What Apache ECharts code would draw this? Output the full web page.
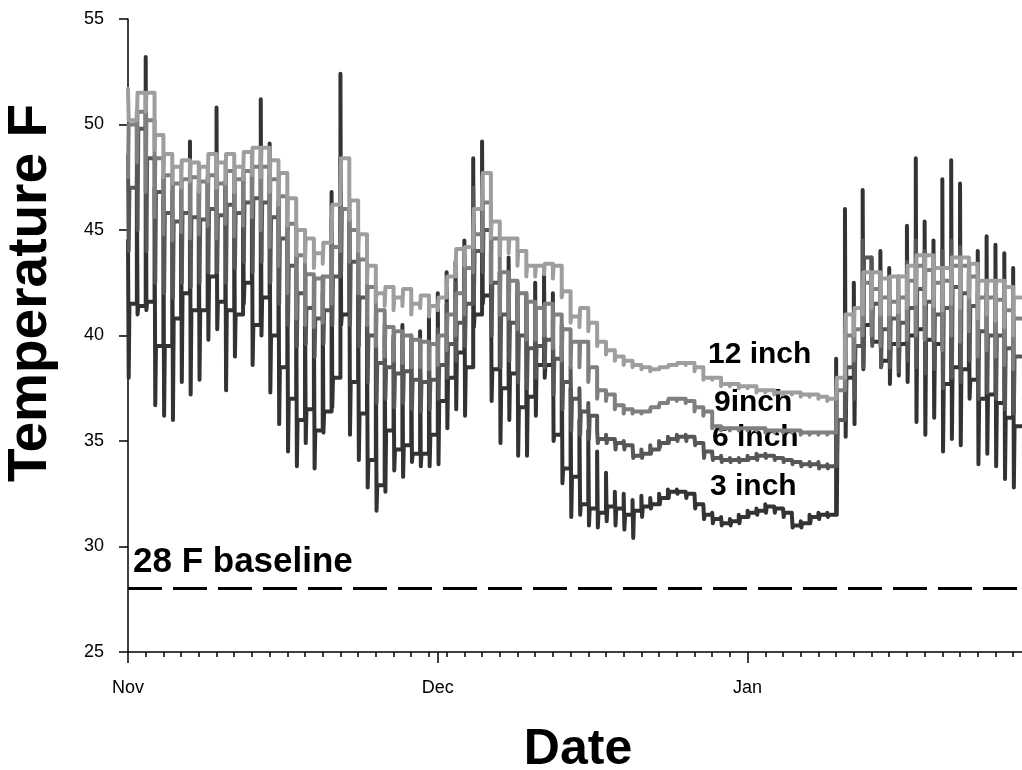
<!DOCTYPE html>
<html>
<head>
<meta charset="utf-8">
<script src="https://cdn.jsdelivr.net/npm/echarts@6.0.0/dist/echarts.min.js"></script>
<style>
html, body { margin: 0; padding: 0; background: #fff; }
#chart { width: 1022px; height: 770px; }
</style>
</head>
<body>
<div id="chart"></div>
<script>
// x axis labels (day index of each label) and the minor tick step
var monthLabels = ['Nov', 'Dec', 'Jan'];
var monthDays = [0, 35, 70];
var minorStep = 2;
var baseline = 28;

// 12 inch: daily level and the short daily excursion
var base12 = [
	50.2, 51.5, 51.5, 49.5, 48.6, 48.0, 48.3, 48.2, 48.0, 48.6,
	48.2, 48.6, 48.0, 48.7, 48.9, 48.9, 48.3, 47.7, 46.5, 45.0,
	44.6, 43.9, 44.4, 46.2, 48.4, 46.4, 44.8, 43.3, 42.0, 42.3,
	41.8, 42.2, 41.5, 41.9, 41.4, 41.8, 42.8, 44.1, 44.2, 46.0,
	47.7, 45.4, 44.6, 44.6, 44.0, 43.3, 43.3, 43.4, 43.3, 42.1,
	40.9, 41.3, 40.6, 39.7, 39.3, 39.0, 38.8, 38.6, 38.5, 38.4,
	38.5, 38.6, 38.7, 38.7, 38.5, 38.0, 38.0, 37.7, 37.7, 37.6,
	37.6, 37.4, 37.4, 37.3, 37.3, 37.3, 37.2, 37.2, 37.1, 37.0,
	38.0, 41.0, 41.3, 43.0, 43.0, 42.7, 42.8, 42.8, 43.3, 43.8,
	43.8, 43.2, 43.2, 43.7, 43.7, 43.4, 42.6, 42.6, 42.6, 42.3, 41.8
];
var spike12 = [
	51.7, 50.2, 50.6, 48.8, 47.5, 47.2, 47.0, 47.3, 46.8, 47.3,
	47.0, 47.2, 46.8, 47.4, 47.6, 47.5, 46.8, 46.2, 45.2, 43.8,
	43.5, 43.2, 43.4, 44.5, 46.5, 45.5, 44.0, 42.5, 41.6, 41.4,
	41.2, 41.4, 41.0, 41.3, 40.9, 41.2, 42.0, 43.0, 43.3, 44.8,
	46.5, 44.6, 43.8, 43.9, 43.3, 42.8, 42.8, 42.9, 42.7, 41.8,
	40.6, 40.4, 40.2, 39.5, 39.1, 38.8, 38.6, 38.5, 38.4, 38.3,
	38.4, 38.5, 38.6, 38.6, 38.3, 37.9, 37.9, 37.6, 37.6, 37.5,
	37.5, 37.3, 37.3, 37.2, 37.2, 37.2, 37.1, 37.1, 37.0, 36.9,
	37.0, 39.5, 40.0, 41.0, 41.3, 41.0, 41.0, 41.1, 41.3, 41.5,
	41.5, 41.4, 41.2, 41.5, 41.3, 41.8, 40.8, 41.0, 40.7, 40.4, 40.0
];

// 9 inch
var base9 = [
	50.0, 50.6, 50.2, 48.4, 47.6, 47.2, 47.4, 47.5, 47.3, 47.6,
	47.2, 47.8, 47.4, 47.8, 48.0, 48.0, 47.4, 46.6, 45.3, 43.8,
	42.9, 42.7, 42.8, 44.2, 46.0, 45.0, 43.6, 42.3, 41.2, 40.4,
	40.2, 40.0, 39.8, 39.7, 39.6, 40.0, 41.0, 42.0, 43.2, 44.8,
	46.3, 44.6, 43.0, 42.6, 42.0, 41.6, 41.3, 41.5, 41.0, 40.3,
	39.7, 39.7, 38.5, 37.4, 37.2, 36.7, 36.5, 36.4, 36.4, 36.6,
	36.8, 37.0, 37.0, 36.9, 36.6, 36.4, 35.7, 35.6, 35.6, 35.6,
	35.6, 35.6, 35.5, 35.5, 35.5, 35.5, 35.4, 35.4, 35.4, 35.4,
	37.4, 40.0, 40.3, 42.5, 42.2, 41.8, 41.6, 41.8, 42.6, 43.3,
	43.1, 42.5, 42.6, 43.3, 43.3, 42.8, 41.8, 41.8, 41.7, 41.2, 40.8
];
var spike9 = [
	47.5, 48.2, 46.8, 45.6, 44.8, 44.5, 44.9, 44.6, 44.8, 45.2,
	44.6, 45.3, 44.7, 45.2, 45.6, 45.0, 44.2, 43.3, 42.0, 40.8,
	40.5, 40.4, 40.6, 41.5, 44.0, 43.5, 42.0, 40.5, 39.5, 39.0,
	38.8, 38.7, 38.5, 38.5, 38.4, 38.6, 39.3, 40.0, 41.0, 43.0,
	44.0, 42.5, 41.0, 40.8, 40.3, 39.8, 39.8, 40.0, 39.4, 38.8,
	38.5, 38.5, 37.8, 37.0, 36.9, 36.5, 36.3, 36.3, 36.3, 36.5,
	36.7, 36.9, 36.9, 36.8, 36.4, 36.2, 35.6, 35.5, 35.5, 35.5,
	35.5, 35.5, 35.4, 35.4, 35.4, 35.4, 35.3, 35.3, 35.3, 35.3,
	35.4, 38.5, 38.8, 40.0, 40.0, 39.5, 39.4, 39.5, 39.8, 40.0,
	39.8, 39.8, 39.3, 40.0, 39.7, 40.2, 39.0, 39.3, 39.0, 38.6, 38.4
];

// 6 inch: daily level, daily high, daily low
var base6 = [
	47.0, 49.8, 48.4, 46.8, 45.8, 45.4, 45.8, 45.6, 45.5, 46.0,
	45.7, 46.2, 45.8, 46.3, 46.5, 46.3, 45.6, 44.6, 43.3, 42.0,
	41.3, 40.8, 41.2, 42.8, 46.0, 43.5, 41.8, 40.0, 38.7, 38.5,
	38.2, 38.3, 37.9, 37.8, 37.9, 38.6, 39.6, 40.6, 41.5, 44.0,
	45.0, 42.5, 41.0, 40.6, 40.0, 39.4, 39.5, 39.8, 38.9, 37.8,
	37.0, 36.4, 36.2, 35.1, 35.1, 34.9, 34.8, 34.3, 34.4, 34.6,
	34.9, 35.1, 35.2, 35.2, 34.9, 34.5, 34.2, 34.1, 34.1, 34.1,
	34.2, 34.3, 34.3, 34.2, 34.1, 34.0, 33.9, 33.9, 33.8, 33.8,
	36.0, 38.5, 39.5, 43.7, 41.5, 40.3, 40.8, 40.6, 41.3, 42.2,
	41.6, 41.0, 41.3, 42.3, 42.0, 41.4, 40.2, 40.0, 40.0, 39.4, 39.0
];
var high6 = [
	48.5, 50.6, 50.5, 48.5, 47.5, 46.8, 46.8, 47.5, 46.8, 47.2,
	47.6, 47.3, 47.4, 47.5, 47.8, 48.5, 47.5, 46.3, 45.2, 43.8,
	43.0, 42.5, 42.8, 45.5, 48.4, 46.0, 44.0, 42.5, 41.0, 40.0,
	39.8, 39.7, 39.5, 39.3, 39.5, 40.3, 41.5, 42.5, 43.8, 47.0,
	47.5, 45.0, 43.0, 42.8, 42.0, 41.5, 41.2, 41.4, 40.8, 39.5,
	38.5, 37.5, 36.8, 35.5, 35.3, 35.1, 35.0, 34.8, 34.6, 34.8,
	35.0, 35.2, 35.3, 35.3, 35.2, 34.9, 34.4, 34.3, 34.2, 34.2,
	34.3, 34.4, 34.4, 34.3, 34.2, 34.1, 34.0, 34.0, 34.0, 33.9,
	37.5, 41.0, 41.0, 44.5, 43.7, 42.5, 42.5, 42.5, 43.5, 44.5,
	44.0, 43.0, 44.0, 44.5, 44.2, 42.5, 42.0, 42.0, 41.8, 41.5, 41.0
];
var low6 = [
	44.0, 45.0, 44.0, 42.5, 42.0, 41.8, 42.5, 42.3, 42.5, 43.0,
	43.0, 42.5, 43.2, 43.5, 43.0, 43.5, 42.5, 41.5, 40.5, 39.5,
	39.6, 39.0, 39.6, 40.5, 43.0, 40.5, 39.5, 37.8, 36.8, 37.0,
	36.6, 36.8, 36.5, 36.4, 36.5, 37.0, 38.0, 38.8, 39.5, 41.8,
	43.0, 40.0, 38.5, 38.8, 37.8, 37.5, 38.0, 38.5, 37.2, 36.5,
	35.5, 35.3, 35.1, 34.9, 34.9, 34.6, 34.6, 34.2, 34.2, 34.4,
	34.7, 34.9, 35.0, 35.0, 34.8, 34.2, 34.1, 34.0, 34.0, 34.0,
	34.1, 34.1, 34.2, 34.1, 34.0, 33.9, 33.8, 33.8, 33.7, 33.7,
	33.8, 36.5, 37.0, 38.5, 39.5, 38.5, 38.5, 38.3, 38.8, 38.5,
	38.2, 38.4, 37.5, 38.0, 37.8, 38.8, 37.0, 37.3, 37.0, 36.5, 36.3
];

// 3 inch
var base3 = [
	41.5, 41.4, 41.6, 39.5, 39.5, 40.8, 42.0, 41.2, 41.2, 42.8,
	41.6, 41.2, 41.0, 42.5, 40.5, 41.8, 40.0, 38.5, 37.0, 36.0,
	36.5, 35.5, 36.4, 38.0, 41.0, 37.8, 36.3, 34.1, 32.9, 35.5,
	34.6, 34.8, 34.4, 34.4, 35.3, 36.9, 38.0, 39.2, 38.5, 41.0,
	41.9, 38.4, 37.5, 38.2, 36.6, 37.1, 38.6, 38.6, 35.3, 33.7,
	33.3, 32.0, 31.8, 31.6, 31.9, 31.8, 31.5, 31.7, 31.9, 32.0,
	32.3, 32.6, 32.6, 32.5, 32.0, 31.5, 31.3, 31.1, 31.2, 31.4,
	31.6, 31.7, 31.9, 31.8, 31.6, 31.0, 31.1, 31.4, 31.5, 31.5,
	36.0, 38.0, 39.5, 40.5, 39.7, 38.8, 39.6, 39.6, 40.0, 40.3,
	39.8, 39.6, 37.7, 38.5, 38.4, 37.9, 37.0, 37.2, 36.8, 36.1, 35.7
];
var high3 = [
	44.5, 47.5, 53.2, 47.0, 46.5, 46.0, 47.0, 49.2, 47.0, 47.5,
	50.8, 47.0, 47.2, 47.5, 47.8, 51.2, 49.1, 46.0, 44.5, 43.0,
	42.0, 41.5, 42.0, 46.8, 52.4, 45.5, 43.0, 41.5, 40.0, 40.5,
	40.0, 40.5, 40.0, 40.2, 41.0, 42.0, 43.0, 43.5, 44.5, 48.4,
	49.2, 44.0, 43.0, 43.7, 42.5, 42.0, 42.5, 43.0, 42.0, 40.5,
	37.5, 36.0, 35.5, 34.5, 33.5, 32.6, 32.5, 32.2, 32.4, 32.3,
	32.5, 32.7, 32.7, 32.6, 32.5, 32.0, 31.6, 31.4, 31.3, 31.5,
	31.7, 31.8, 32.0, 31.9, 31.8, 31.5, 31.2, 31.5, 31.6, 31.6,
	38.9, 46.0, 42.5, 46.9, 43.7, 44.0, 43.2, 42.8, 45.2, 48.4,
	45.4, 44.5, 47.4, 48.3, 47.2, 43.0, 44.0, 44.7, 44.3, 43.9, 43.2
];
var low3 = [
	38.0, 41.0, 41.2, 36.7, 36.2, 36.0, 37.8, 37.2, 37.9, 39.8,
	40.3, 37.4, 39.0, 41.5, 38.6, 40.0, 37.3, 35.8, 34.5, 33.8,
	34.9, 33.7, 35.4, 36.6, 40.5, 35.3, 34.1, 32.8, 31.7, 32.6,
	33.6, 33.3, 34.0, 33.8, 33.8, 33.9, 35.6, 36.5, 36.2, 40.4,
	41.5, 36.9, 34.9, 36.0, 34.3, 34.3, 36.2, 38.0, 35.0, 33.0,
	31.4, 31.5, 31.0, 30.9, 31.2, 31.0, 30.8, 30.4, 31.4, 31.8,
	32.0, 32.3, 32.5, 32.3, 31.8, 31.3, 31.1, 31.0, 31.0, 31.1,
	31.4, 31.5, 31.6, 31.6, 31.4, 30.9, 30.9, 31.1, 31.3, 31.4,
	31.5, 35.2, 35.8, 38.4, 39.7, 38.5, 37.7, 38.1, 37.8, 35.9,
	35.3, 36.1, 34.5, 35.1, 34.8, 37.0, 33.9, 34.4, 33.8, 33.2, 32.8
];

var FONT = 'Liberation Sans, Arial, sans-serif';

/**
 * turn the daily arrays into a stepped line:
 * previous level -> high -> low -> new level, then flat until the next day
 */
function toSteps(level, high, low) {
	var pts = [];
	for (var d = 0; d < level.length; d++) {
		if (d > 0) pts.push([d, level[d - 1]]);
		pts.push([d, high[d]]);
		pts.push([d + 0.08, high[d]]);
		if (low) {
			pts.push([d + 0.08, low[d]]);
			pts.push([d + 0.16, low[d]]);
			pts.push([d + 0.16, level[d]]);
		} else {
			pts.push([d + 0.08, level[d]]);
		}
	}
	pts.push([100.9, level[level.length - 1]]);
	return pts;
}

var minorTicks = [];
for (var t = 0; t <= 100; t += minorStep) minorTicks.push(t);

function lineSeries(name, color, data) {
	return {
		name: name,
		type: 'line',
		data: data,
		showSymbol: false,
		symbol: 'none',
		lineStyle: { color: color, width: 4, cap: 'round', join: 'round' },
		silent: true
	};
}

var myChart = echarts.init(document.getElementById('chart'), null, { renderer: 'canvas' });
var option = {
	animation: false,
	backgroundColor: '#ffffff',
	grid: { left: 128, top: 19, right: 0, bottom: 118 },
	xAxis: [
		{
			type: 'value', min: 0, max: 101,
			axisLine: { lineStyle: { color: '#000', width: 1.5 } },
			axisTick: { customValues: minorTicks, length: 5, lineStyle: { color: '#000', width: 1.5 } },
			axisLabel: { show: false },
			splitLine: { show: false }
		},
		{
			type: 'value', min: 0, max: 101, position: 'bottom',
			axisLine: { show: false },
			axisTick: { customValues: monthDays, length: 11, lineStyle: { color: '#000', width: 1.5 } },
			axisLabel: {
				customValues: monthDays,
				margin: 27,
				fontSize: 18,
				fontFamily: FONT,
				color: '#000',
				formatter: function (v) {
					var i = monthDays.indexOf(v);
					return i >= 0 ? monthLabels[i] : '';
				}
			},
			splitLine: { show: false }
		}
	],
	yAxis: {
		type: 'value', min: 25, max: 55, interval: 5,
		axisLine: { show: true, lineStyle: { color: '#000', width: 1.5 } },
		axisTick: { show: true, length: 9, lineStyle: { color: '#000', width: 1.5 } },
		axisLabel: { fontSize: 18, fontFamily: FONT, color: '#000', margin: 24 },
		splitLine: { show: false }
	},
	series: [
		lineSeries('3 inch', '#333333', toSteps(base3, high3, low3)),
		lineSeries('6 inch', '#575757', toSteps(base6, high6, low6)),
		lineSeries('9inch', '#7f7f7f', toSteps(base9, spike9, null)),
		(function () {
			var s = lineSeries('12 inch', '#9e9e9e', toSteps(base12, spike12, null));
			s.markLine = {
				silent: true,
				symbol: 'none',
				label: { show: false },
				lineStyle: { color: '#000', width: 3, type: [34, 11] },
				data: [{ yAxis: baseline }]
			};
			return s;
		})()
	],
	graphic: [
		{ type: 'text', left: 708, top: 340, style: { text: '12 inch', font: 'bold 30px ' + FONT, fill: '#000' } },
		{ type: 'text', left: 714, top: 388, style: { text: '9inch', font: 'bold 30px ' + FONT, fill: '#000' } },
		{ type: 'text', left: 712, top: 423, style: { text: '6 inch', font: 'bold 30px ' + FONT, fill: '#000' } },
		{ type: 'text', left: 710, top: 472, style: { text: '3 inch', font: 'bold 30px ' + FONT, fill: '#000' } },
		{ type: 'text', left: 133, top: 545, style: { text: '28 F baseline', font: 'bold 35px ' + FONT, fill: '#000' } },
		{
			type: 'text', x: 31, y: 293, rotation: Math.PI / 2,
			style: { text: 'Temperature F', font: 'bold 55px ' + FONT, fill: '#000', align: 'center', verticalAlign: 'middle' }
		},
		{
			type: 'text', x: 578, y: 750,
			style: { text: 'Date', font: 'bold 50px ' + FONT, fill: '#000', align: 'center', verticalAlign: 'middle' }
		}
	]
};
// 显示图表。
myChart.setOption(option);
</script>
</body>
</html>
